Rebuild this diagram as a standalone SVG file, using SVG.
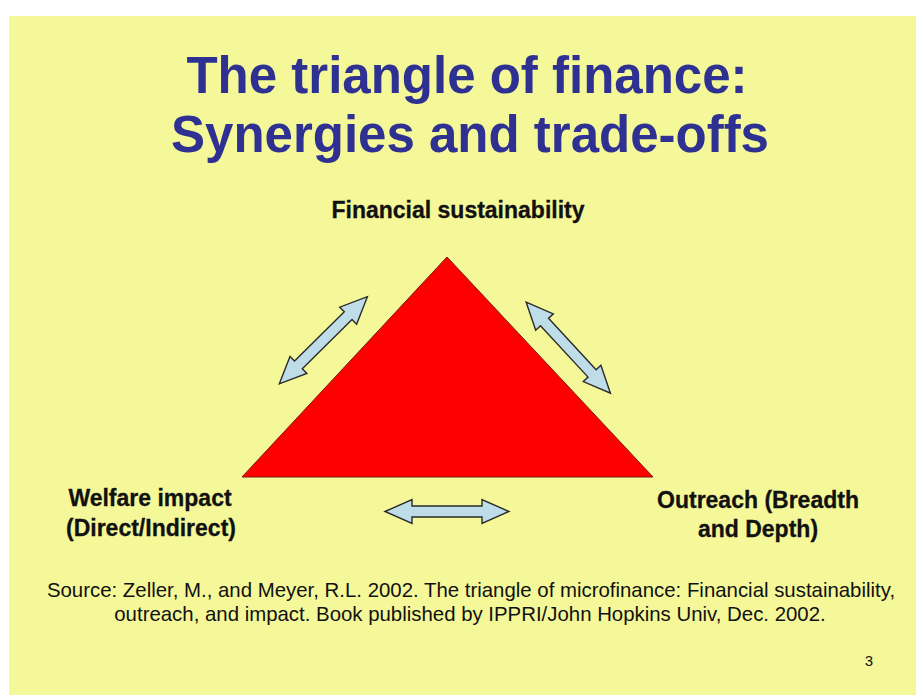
<svg xmlns="http://www.w3.org/2000/svg" width="916" height="695" viewBox="0 0 916 695">
  <style>
    .title { font-family: "Liberation Sans", Arial, sans-serif; font-weight: bold; font-size: 51px; fill: #2E3192; text-anchor: middle; }
    .lbl { font-family: "Liberation Sans", Arial, sans-serif; font-weight: bold; font-size: 23px; fill: #111; stroke: #111; stroke-width: 0.3; text-anchor: middle; }
    .src { font-family: "Liberation Sans", Arial, sans-serif; font-size: 20.4px; fill: #111; text-anchor: middle; }
    .arrow { fill: #BEDDE9; stroke: #2a2a2a; stroke-width: 1.4; stroke-linejoin: miter; }
  </style>
  <defs>
    <path id="dblArrow" class="arrow" d="M -62 0 L -35 -12 L -35 -5.5 L 35 -5.5 L 35 -12 L 62 0 L 35 12 L 35 5.5 L -35 5.5 L -35 12 Z"/>
  </defs>
  <rect x="0" y="0" width="916" height="695" fill="#FFFFFF"/>
  <rect x="9" y="16" width="907" height="679" fill="#F5F898"/>

  <g id="title">
    <text class="title" x="467" y="93">The triangle of finance:</text>
    <text class="title" x="470" y="152">Synergies and trade-offs</text>
  </g>

  <g id="triangle">
    <polygon points="447,257 242,477 653,477" fill="#FF0000" stroke="#7a1a10" stroke-width="1"/>
  </g>

  <g id="node-financial">
    <text class="lbl" x="458" y="218">Financial sustainability</text>
  </g>
  <g id="node-welfare">
    <text class="lbl" x="150" y="506">Welfare impact</text>
    <text class="lbl" x="151" y="536">(Direct/Indirect)</text>
  </g>
  <g id="node-outreach">
    <text class="lbl" x="758" y="508">Outreach (Breadth</text>
    <text class="lbl" x="758" y="537">and Depth)</text>
  </g>

  <g id="connectors">
    <use href="#dblArrow" transform="translate(323.3,340.3) rotate(-44.7)"/>
    <use href="#dblArrow" transform="translate(568.3,347.7) rotate(47.2)"/>
    <use href="#dblArrow" transform="translate(447,511.5)"/>
  </g>

  <g id="source">
    <text class="src" x="471" y="597">Source: Zeller, M., and Meyer, R.L. 2002. The triangle of microfinance: Financial sustainability,</text>
    <text class="src" x="470" y="621">outreach, and impact. Book published by IPPRI/John Hopkins Univ, Dec. 2002.</text>
  </g>
  <g id="page-number">
    <text class="src" x="869" y="666" style="font-size:15px">3</text>
  </g>
</svg>
